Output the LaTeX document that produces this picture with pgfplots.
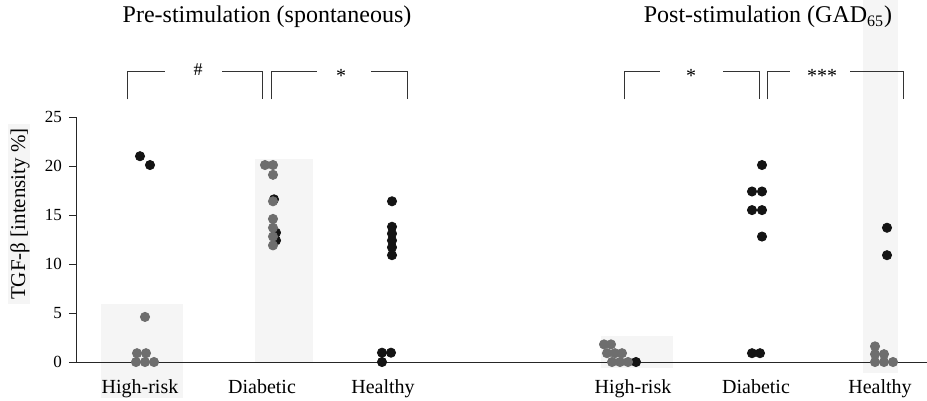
\documentclass[border=0pt]{standalone}
\usepackage{fontspec}
\setmainfont{Liberation Serif}
\usepackage{pgfplots}
\pgfplotsset{compat=1.18}
\definecolor{dotgray}{HTML}{6E6E6E}
\definecolor{dotblack}{HTML}{141414}
\definecolor{scanshade}{HTML}{F5F5F5}
\begin{document}
\begin{tikzpicture}
\begin{axis}[
  set layers=standard,
  x=0.5pt, y=4.9pt,
  xmin=77, xmax=927, ymin=0, ymax=25,
  axis x line=bottom, axis y line=left,
  axis line style={black!85, line width=0.5pt, -},
  clip=false,
  xtick={140,262,383,633,756,880},
  xticklabels={High-risk,Diabetic,Healthy,High-risk,Diabetic,Healthy},
  x tick style={draw=none},
  xticklabel style={font=\fontsize{10}{12}\selectfont, yshift=-1.5pt},
  ytick={0,5,10,15,20,25},
  y tick style={black!85, line width=0.5pt},
  tick align=outside, major tick length=4pt,
  yticklabel style={font=\fontsize{8.5}{10}\selectfont},
  /pgf/number format/assume math mode=true,
]
% faint scan shading
\begin{pgfonlayer}{axis background}
\fill[scanshade] (axis cs:101,5.9) rectangle (axis cs:183,-3.7);
\fill[scanshade] (axis cs:255,20.7) rectangle (axis cs:313,0);
\fill[scanshade] (axis cs:601,2.65) rectangle (axis cs:673,-0.6);
\fill[scanshade] (axis cs:863,36.9) rectangle (axis cs:898,-1.1);
\fill[scanshade] (axis cs:8,24.3) rectangle (axis cs:30,5.9);
\end{pgfonlayer}
\draw[black!85, line width=0.5pt] (axis cs:70,0) -- (axis cs:927,0);

% black dots behind gray
\addplot[only marks, mark=*, mark size=2.3pt, color=dotblack] coordinates {
 (140,21.0) (150,20.1)
 (274,16.6) (276,13.2) (276,12.4)
 (392,16.4) (392,13.8) (392,13.1) (392,12.4) (392,11.7) (392,10.9)
 (382,0.95) (391,0.95) (382,0)
 (636,0)
 (762,20.1) (752,17.4) (762,17.4) (752,15.5) (762,15.5) (762,12.8) (752,0.9) (760,0.9)
 (887,13.7) (887,10.9)
};
\addplot[only marks, mark=*, mark size=2.3pt, color=dotgray] coordinates {
 (145,4.6) (137,0.9) (146,0.9) (136,0) (145,0) (154,0)
 (265,20.1) (273,20.1) (273,19.1) (273,16.4) (273,14.6) (273,13.7) (273,12.8) (273,11.9)
 (604,1.8) (611,1.8) (607,0.9) (615,0.9) (622,0.9) (612,0) (620,0) (628,0)
 (875,1.6) (875,0.8) (884,0.8) (875,0) (884,0) (893,0)
};

% titles
\node[font=\fontsize{12}{14}\selectfont] at (axis cs:267,35.2) {Pre-stimulation (spontaneous)};
\node[font=\fontsize{12}{14}\selectfont] at (axis cs:768,35.2) {Post-stimulation (GAD\textsubscript{65})};

% significance brackets
\begin{scope}[black!80, line width=0.5pt]
\draw (axis cs:128,26.8) -- (axis cs:128,29.6) -- (axis cs:165,29.6);
\draw (axis cs:222,29.6) -- (axis cs:262,29.6) -- (axis cs:262,26.8);
\draw (axis cs:271,26.8) -- (axis cs:271,29.6) -- (axis cs:317,29.6);
\draw (axis cs:371,29.6) -- (axis cs:407,29.6) -- (axis cs:407,26.8);
\draw (axis cs:624,26.8) -- (axis cs:624,29.6) -- (axis cs:660,29.6);
\draw (axis cs:723,29.6) -- (axis cs:759,29.6) -- (axis cs:759,26.8);
\draw (axis cs:767,26.8) -- (axis cs:767,29.6) -- (axis cs:790,29.6);
\draw (axis cs:850,29.6) -- (axis cs:903,29.6) -- (axis cs:903,26.8);
\end{scope}
\node[font=\fontsize{9}{10}\selectfont] at (axis cs:198,29.8) {\#};
\node[font=\fontsize{10}{10}\selectfont] at (axis cs:341,29.2) {*};
\node[font=\fontsize{10}{10}\selectfont] at (axis cs:691,29.2) {*};
\node[font=\fontsize{10}{10}\selectfont] at (axis cs:822,29.2) {***};

% y label
\node[rotate=90, font=\fontsize{10.5}{12}\selectfont] at (axis cs:20,15.1) {TGF-β [intensity \%]};

\coordinate (bbl) at (axis cs:0,-3.88);
\coordinate (btr) at (axis cs:927,36.94);
\end{axis}
\pgfresetboundingbox
\path[use as bounding box] (bbl) rectangle (btr);
\end{tikzpicture}
\end{document}
